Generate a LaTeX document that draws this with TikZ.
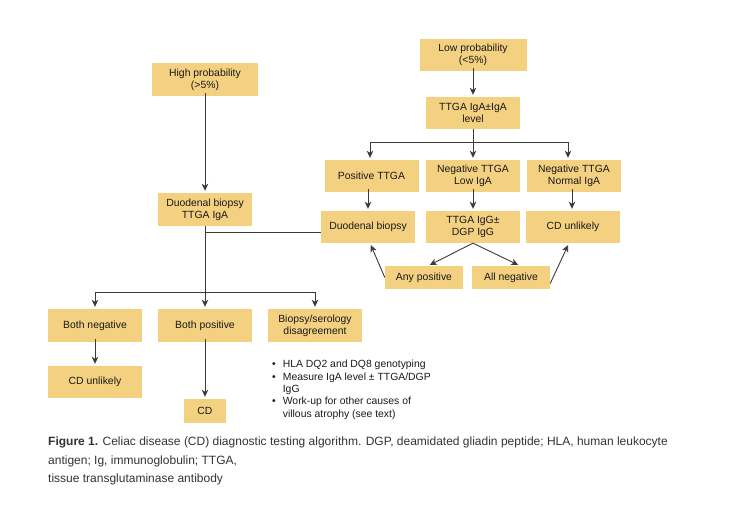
\documentclass[tikz,border=0pt]{standalone}
\usepackage{fontspec}
\setmainfont{Liberation Sans}
\usepackage{xcolor}
\usetikzlibrary{positioning, arrows.meta}
\definecolor{boxfill}{HTML}{F4D081}
\definecolor{linegray}{HTML}{3A3A3A}
\definecolor{captext}{HTML}{333333}

\begin{document}
\begin{tikzpicture}[x=1pt, y=-1pt,
    box/.style={fill=boxfill, minimum width=94pt, minimum height=32pt, inner sep=0pt,
                align=center, font=\fontsize{10.4}{12.3}\selectfont, text=black!90},
    smallbox/.style={box, minimum width=78pt, minimum height=23pt},
    ln/.style={draw=linegray, line width=0.9pt},
    arr/.style={ln, -{Stealth[length=7pt, width=6.5pt, inset=2pt]}, shorten >=2pt}]
  \useasboundingbox (0,0) rectangle (732,514);

  % high probability branch
  \node[box, minimum width=106pt, minimum height=33pt] (high) at (205,79.5) {High probability\\(>5\%)};
  \node[box, minimum height=33pt] (dbx) at (205,209.5) {Duodenal biopsy\\TTGA IgA};
  \node[box, minimum height=33pt] (bneg) at (95,325.5) {Both negative};
  \node[box, minimum height=33pt] (bpos) at (205,325.5) {Both positive};
  \node[box, minimum height=33pt] (dis) at (315,325.5) {Biopsy/serology\\disagreement};
  \node[box] (cdu2) at (95,382) {CD unlikely};
  \node[box, minimum width=42pt, minimum height=24pt] (cd) at (205,411) {CD};

  % low probability branch
  \node[box, minimum width=107pt] (low) at (473,55) {Low probability\\(<5\%)};
  \node[box] (lvl) at (473,113) {TTGA IgA±IgA\\level};
  \node[box] (pos) at (371.5,176) {Positive TTGA};
  \node[box] (neglow) at (473,176) {Negative TTGA\\Low IgA};
  \node[box] (negnorm) at (574,176) {Negative TTGA\\Normal IgA};
  \node[box] (db) at (368,227) {Duodenal biopsy};
  \node[box] (igg) at (473,227) {TTGA IgG±\\DGP IgG};
  \node[box] (cdu1) at (573,227) {CD unlikely};
  \node[smallbox] (anyp) at (424,277.5) {Any positive};
  \node[smallbox] (alln) at (511,277.5) {All negative};

  % junctions
  \coordinate (jtop) at (473,142);
  \coordinate (jbot) at (205,292);
  \coordinate (jdb) at (205,232);

  \draw[arr] ([yshift=3pt]high.south) -- (dbx.north);
  \draw[ln] (dbx.south) -- (jbot);
  \draw[ln] (db.west |- jdb) -- (jdb);
  \draw[ln] (bneg.north |- jbot) -- (dis.north |- jbot);
  \foreach \n in {bneg, bpos, dis}
    \draw[arr] (\n.north |- jbot) -- (\n.north);
  \draw[arr] ([yshift=3pt]bneg.south) -- (cdu2.north);
  \draw[arr] ([yshift=3pt]bpos.south) -- (cd.north);

  \draw[arr] ([yshift=3pt]low.south) -- (lvl.north);
  \draw[ln] (lvl.south) -- (jtop);
  \draw[ln] ([xshift=-1.5pt]pos.north |- jtop) -- ([xshift=-6pt]negnorm.north |- jtop);
  \draw[arr] ([xshift=-1.5pt]pos.north |- jtop) -- ([xshift=-1.5pt]pos.north);
  \draw[arr] (jtop) -- (neglow.north);
  \draw[arr] ([xshift=-6pt]negnorm.north |- jtop) -- ([xshift=-6pt]negnorm.north);
  \draw[arr] ([yshift=3pt]db.south |- pos.south) -- (db.north);
  \draw[arr] ([yshift=3pt]neglow.south) -- (igg.north);
  \draw[arr] ([xshift=-2pt,yshift=3pt]negnorm.south) -- ([xshift=-2pt]negnorm.south |- cdu1.north);
  \draw[arr] (igg.south) -- ([xshift=4pt]anyp.north);
  \draw[arr] (igg.south) -- ([xshift=9pt]alln.north);
  \draw[arr] (anyp.west) -- ([xshift=2pt]db.south);
  \draw[arr] ([yshift=-6pt]alln.east) -- ([xshift=-4pt]cdu1.south);

  % notes and caption
  \node[anchor=north west, inner sep=0pt, font=\fontsize{10.4}{12.3}\selectfont, text=black!90] (notes) at (272,359)
    {\begin{tabular}{@{}l@{\hspace{7pt}}l@{}}
      \textbullet & HLA DQ2 and DQ8 genotyping\\
      \textbullet & Measure IgA level ± TTGA/DGP\\
                  & IgG\\
      \textbullet & Work-up for other causes of\\
                  & villous atrophy (see text)
    \end{tabular}};
  \node[anchor=north west, inner sep=0pt, align=left, font=\fontsize{12}{18.5}\selectfont, text=captext] (cap) at (48,437)
    {\textbf{Figure 1.} Celiac disease (CD) diagnostic testing algorithm. DGP, deamidated gliadin peptide; HLA, human leukocyte\\
     antigen; Ig, immunoglobulin; TTGA,\\
     tissue transglutaminase antibody};
\end{tikzpicture}
\end{document}
